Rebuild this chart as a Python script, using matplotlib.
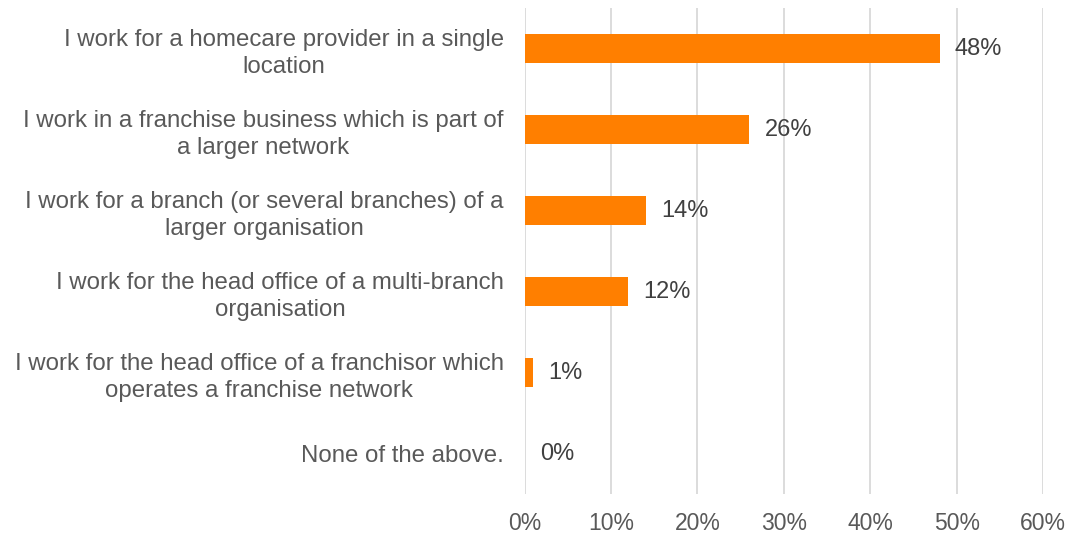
import matplotlib.pyplot as plt
from matplotlib.ticker import PercentFormatter

plt.rcParams['font.family'] = ['Liberation Sans', 'DejaVu Sans']

# survey answers, top to bottom
categories = [
    "I work for a homecare provider in a single\nlocation",
    "I work in a franchise business which is part of\na larger network",
    "I work for a branch (or several branches) of a\nlarger organisation",
    "I work for the head office of a multi-branch\norganisation",
    "I work for the head office of a franchisor which\noperates a franchise network",
    "None of the above.",
]
shares = [48, 26, 14, 12, 1, 0]
x_ticks = [0, 10, 20, 30, 40, 50, 60]

bar_color = '#FF7F00'
label_color = '#595959'
value_color = '#404040'
grid_color = '#D9D9D9'

fig = plt.figure(figsize=(10.75, 5.37), dpi=100)
ax = fig.add_axes([0.488, 0.080, 0.4825, 0.905])

pos = list(range(len(categories)))
bars = ax.barh(pos, shares, height=0.355, color=bar_color, zorder=3)

for b, v in zip(bars, shares):
    ax.annotate(f"{v}%", xy=(b.get_width(), b.get_y() + b.get_height() / 2),
                xytext=(11, 0), textcoords='offset points',
                ha='left', va='center', fontsize=17, color=value_color)

ax.set_ylim(len(categories) - 0.5, -0.5)
ax.set_xlim(0, 60)
ax.set_xticks(x_ticks)
ax.xaxis.set_major_formatter(PercentFormatter(decimals=0))
ax.set_yticks(pos)
ax.set_yticklabels(categories, multialignment='center', linespacing=1.32)

ax.tick_params(axis='y', length=0, pad=15, labelsize=17.3, labelcolor=label_color)
ax.tick_params(axis='x', length=0, pad=13, labelsize=16.5, labelcolor=label_color)

ax.grid(axis='x', color=grid_color, linewidth=1.3, zorder=0)
for s in ax.spines.values():
    s.set_visible(False)

fig.savefig('out.png', dpi=100)
